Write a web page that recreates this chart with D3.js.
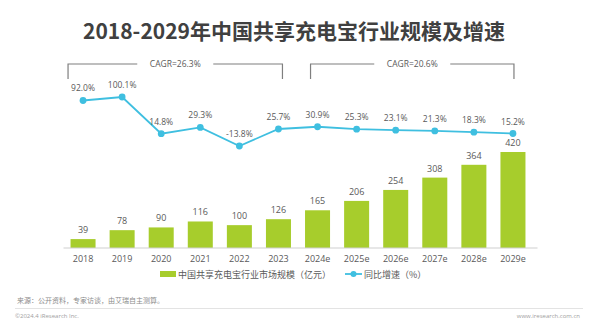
<!DOCTYPE html>
<html>
<head>
<meta charset="utf-8">
<script src="https://cdn.jsdelivr.net/npm/d3@7"></script>
<style>
  body { margin: 0; background: #fff; }
  svg { display: block; font-family: "Open Sans", "Noto Sans CJK SC", sans-serif; }
</style>
</head>
<body>
<div id="chart"></div>
<script>
// datos
const years = ['2018', '2019', '2020', '2021', '2022', '2023', '2024e', '2025e', '2026e', '2027e', '2028e', '2029e'];
const marketSize = [39, 78, 90, 116, 100, 126, 165, 206, 254, 308, 364, 420];
const growthRate = [92.0, 100.1, 14.8, 29.3, -13.8, 25.7, 30.9, 25.3, 23.1, 21.3, 18.3, 15.2];
const cagrGroups = [
    { from: '2018', to: '2023', label: 'CAGR=26.3%' },
    { from: '2024e', to: '2029e', label: 'CAGR=20.6%' }
];
const titleText = '2018-2029年中国共享充电宝行业规模及增速';
const legendBar = '中国共享充电宝行业市场规模（亿元）';
const legendLine = '同比增速（%）';
const sourceText = '来源：公开资料，专家访谈，由艾瑞自主测算。';
const copyright = '©2024.4 iResearch Inc.';
const website = 'www.iresearch.com.cn';

const width = 600, height = 336;
const green = '#a7cd2c', cyan = '#3fbfe0', textGray = '#595959';

const svg = d3.select('#chart')
    .append('svg')
    .attr('width', width)
    .attr('height', height);

// titulo
svg.append('text')
    .attr('x', 294)
    .attr('y', 39)
    .attr('text-anchor', 'middle')
    .attr('fill', '#404040')
    .style('font-size', '21px')
    .style('font-weight', 'bold')
    .style('font-family', '"Noto Sans CJK SC", sans-serif')
    .text(titleText);

// escalas
const x = d3.scaleBand()
    .domain(years)
    .range([63.5, 532.5])
    .paddingInner(0.36)
    .paddingOuter(0.18);
const cx = d => x(d) + x.bandwidth() / 2;

const yBar = d3.scaleLinear()
    .domain([0, d3.max(marketSize)])
    .range([248, 152]);

const yLine = d3.scaleLinear()
    .domain(d3.extent(growthRate))
    .range([146, 97]);

// barras
svg.append('g')
    .selectAll('rect')
    .data(years)
    .enter()
    .append('rect')
    .attr('x', d => x(d))
    .attr('y', (d, i) => yBar(marketSize[i]))
    .attr('width', x.bandwidth())
    .attr('height', (d, i) => yBar(0) - yBar(marketSize[i]))
    .attr('fill', green);

svg.append('g')
    .selectAll('text')
    .data(years)
    .enter()
    .append('text')
    .attr('x', d => cx(d))
    .attr('y', (d, i) => yBar(marketSize[i]) - 6)
    .attr('text-anchor', 'middle')
    .attr('fill', textGray)
    .style('font-size', '9px')
    .text((d, i) => marketSize[i]);

// eje X
const xAxis = d3.axisBottom(x).tickSize(0).tickPadding(8);
const axisG = svg.append('g')
    .attr('transform', `translate(0, ${yBar(0)})`)
    .call(xAxis);
axisG.select('.domain').attr('stroke', '#d0d0d0').attr('stroke-width', 1.2)
    .attr('d', `M${x.range()[0]},0H${x.range()[1] + 5}`);
axisG.selectAll('text')
    .attr('fill', textGray)
    .style('font-size', '9px')
    .style('font-family', '"Open Sans", sans-serif');

// linea de crecimiento
const line = d3.line()
    .x((d, i) => cx(years[i]))
    .y(d => yLine(d));

svg.append('path')
    .datum(growthRate)
    .attr('d', line)
    .attr('fill', 'none')
    .attr('stroke', cyan)
    .attr('stroke-width', 1.8);

svg.append('g')
    .selectAll('circle')
    .data(growthRate)
    .enter()
    .append('circle')
    .attr('cx', (d, i) => cx(years[i]))
    .attr('cy', d => yLine(d))
    .attr('r', 3.4)
    .attr('fill', cyan);

svg.append('g')
    .selectAll('text')
    .data(growthRate)
    .enter()
    .append('text')
    .attr('x', (d, i) => cx(years[i]))
    .attr('y', d => yLine(d) - 9)
    .attr('text-anchor', 'middle')
    .attr('fill', textGray)
    .style('font-size', '8.5px')
    .text(d => d.toFixed(1) + '%');

// corchetes CAGR
const bracketTop = 64, bracketBottom = 79;
cagrGroups.forEach((g, k) => {
    const x1 = cx(g.from) - (k === 0 ? 15 : 7);
    const x2 = cx(g.to) + (k === 0 ? 4 : 1);
    const mid = (x1 + x2) / 2;
    const gap = 38;
    svg.append('path')
        .attr('d', `M${x1},${bracketBottom}V${bracketTop}H${mid - gap}M${mid + gap},${bracketTop}H${x2}V${bracketBottom}`)
        .attr('fill', 'none')
        .attr('stroke', '#7f7f7f')
        .attr('stroke-width', 1.2);
    svg.append('text')
        .attr('x', mid)
        .attr('y', bracketTop + 3)
        .attr('text-anchor', 'middle')
        .attr('fill', textGray)
        .style('font-size', '8.5px')
        .text(g.label);
});

// leyenda
const legend = svg.append('g').attr('transform', 'translate(0, 274)');
legend.append('rect')
    .attr('x', 160).attr('y', -3)
    .attr('width', 16).attr('height', 6)
    .attr('fill', green);
legend.append('text')
    .attr('x', 178).attr('y', 3.5)
    .attr('fill', textGray)
    .style('font-size', '9px')
    .style('font-family', '"Noto Sans CJK SC", sans-serif')
    .text(legendBar);
legend.append('line')
    .attr('x1', 345).attr('x2', 362)
    .attr('stroke', cyan).attr('stroke-width', 1.8);
legend.append('circle')
    .attr('cx', 353.5).attr('r', 3)
    .attr('fill', cyan);
legend.append('text')
    .attr('x', 364).attr('y', 3.5)
    .attr('fill', textGray)
    .style('font-size', '9px')
    .style('font-family', '"Noto Sans CJK SC", sans-serif')
    .text(legendLine);

// pie de pagina
svg.append('text')
    .attr('x', 17).attr('y', 303)
    .attr('fill', '#8c8c8c')
    .style('font-size', '7px')
    .style('font-family', '"Noto Sans CJK SC", sans-serif')
    .text(sourceText);
svg.append('line')
    .attr('x1', 15).attr('x2', 583)
    .attr('y1', 308.5).attr('y2', 308.5)
    .attr('stroke', '#e3e3e3').attr('stroke-width', 1);
svg.append('text')
    .attr('x', 15).attr('y', 318)
    .attr('fill', '#a0a0a0')
    .style('font-size', '6px')
    .text(copyright);
svg.append('text')
    .attr('x', 580).attr('y', 318)
    .attr('text-anchor', 'end')
    .attr('fill', '#a0a0a0')
    .style('font-size', '6px')
    .text(website);
</script>
</body>
</html>
